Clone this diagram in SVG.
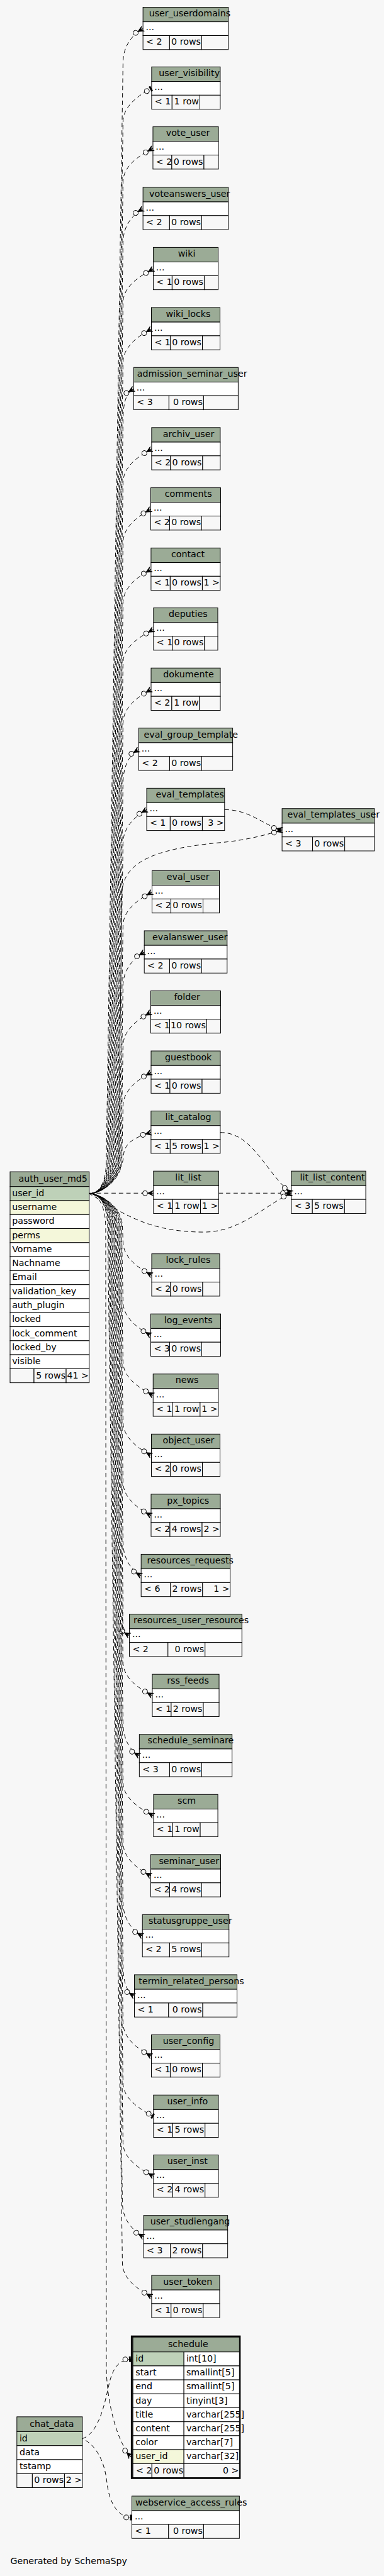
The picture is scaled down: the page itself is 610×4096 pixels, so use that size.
<svg xmlns="http://www.w3.org/2000/svg" width="610" height="4096" viewBox="0 0 610 4096">
<style>
.hd{fill:#9bab96;stroke:#000;stroke-width:1}
.bd{fill:#fff;stroke:#000;stroke-width:1}
.ft{fill:#f7f7f7;stroke:#000;stroke-width:1}
.pk{fill:#bed1b8;stroke:#000;stroke-width:1}
.ix{fill:#f4f7da;stroke:#000;stroke-width:1}
text{font-family:"DejaVu Sans","Bitstream Vera Sans",sans-serif;font-size:14.5px;fill:#000}
.m{text-anchor:middle}
.r{text-anchor:end}
.e{fill:none;stroke:#000;stroke-width:1;stroke-dasharray:7 5}
.ec{marker-end:url(#crow)}
.et{marker-end:url(#tee)}
.o1{stroke-dashoffset:3}.o2{stroke-dashoffset:6}.o3{stroke-dashoffset:9}.o4{stroke-dashoffset:1.5}.o5{stroke-dashoffset:4.5}.o6{stroke-dashoffset:7.5}.o7{stroke-dashoffset:10.5}
</style>
<defs>
<marker id="crow" viewBox="0 0 20 12" refX="18" refY="6" markerWidth="20" markerHeight="12" markerUnits="userSpaceOnUse" orient="auto" style="overflow:visible">
<circle cx="4.4" cy="6" r="4" fill="#f7f7f7" stroke="#000" stroke-width="1" stroke-dasharray="none"/>
<polygon points="8.4,6 18,1.5 14,6 18,10.5" fill="#000" stroke="#000" stroke-width="0.8" stroke-dasharray="none"/>
<line x1="8.4" y1="6" x2="18" y2="6" stroke="#000" stroke-width="1"/>
</marker>
<marker id="tee" viewBox="0 0 20 12" refX="18" refY="6" markerWidth="20" markerHeight="12" markerUnits="userSpaceOnUse" orient="auto" style="overflow:visible">
<circle cx="9" cy="6" r="4" fill="#f7f7f7" stroke="#000" stroke-width="1" stroke-dasharray="none"/>
<rect x="15" y="1.5" width="3" height="9" fill="#000"/>
</marker>
</defs>
<rect x="0" y="0" width="610" height="4096" fill="#f7f7f7"/>
<g transform="scale(0.982)">

<g id="nodes">
<g id="t-user_userdomains">
<rect class="hd" x="231.3" y="11.7" width="138" height="23.6"/><rect class="bd" x="231.3" y="35.3" width="138" height="22.2"/>
<rect class="ft" x="231.3" y="57.5" width="43" height="22.7"/><rect class="ft" x="274.3" y="57.5" width="52" height="22.7"/><rect class="ft" x="326.3" y="57.5" width="43" height="22.7"/>
<text class="m" x="307" y="26.7">user_userdomains</text><text x="235.8" y="49.2">...</text><text x="236.3" y="72.7">&lt; 2</text><text class="r" x="324.8" y="72.7">0 rows</text>
</g>
<g id="t-user_visibility">
<rect class="hd" x="245.3" y="108.3" width="111" height="23.6"/><rect class="bd" x="245.3" y="131.9" width="111" height="22.2"/>
<rect class="ft" x="245.3" y="154.1" width="33" height="22.7"/><rect class="ft" x="278.3" y="154.1" width="45" height="22.7"/><rect class="ft" x="323.3" y="154.1" width="33" height="22.7"/>
<text class="m" x="306.2" y="123.3">user_visibility</text><text x="249.8" y="145.8">...</text><text x="250.3" y="169.3">&lt; 1</text><text class="r" x="321.8" y="169.3">1 row</text>
</g>
<g id="t-vote_user">
<rect class="hd" x="247.4" y="205.3" width="106" height="23.6"/><rect class="bd" x="247.4" y="228.9" width="106" height="22.2"/>
<rect class="ft" x="247.4" y="251.1" width="30.5" height="22.7"/><rect class="ft" x="277.9" y="251.1" width="52" height="22.7"/><rect class="ft" x="329.9" y="251.1" width="23.5" height="22.7"/>
<text class="m" x="304" y="220.3">vote_user</text><text x="251.9" y="242.8">...</text><text x="252.4" y="266.3">&lt; 2</text><text class="r" x="328.4" y="266.3">0 rows</text>
</g>
<g id="t-voteanswers_user">
<rect class="hd" x="231.3" y="303.3" width="138" height="23.6"/><rect class="bd" x="231.3" y="326.9" width="138" height="22.2"/>
<rect class="ft" x="231.3" y="349.1" width="43" height="22.7"/><rect class="ft" x="274.3" y="349.1" width="52" height="22.7"/><rect class="ft" x="326.3" y="349.1" width="43" height="22.7"/>
<text class="m" x="306.8" y="318.3">voteanswers_user</text><text x="235.8" y="340.8">...</text><text x="236.3" y="364.3">&lt; 2</text><text class="r" x="324.8" y="364.3">0 rows</text>
</g>
<g id="t-wiki">
<rect class="hd" x="247.9" y="400.6" width="105" height="23.6"/><rect class="bd" x="247.9" y="424.2" width="105" height="22.2"/>
<rect class="ft" x="247.9" y="446.4" width="30.5" height="22.7"/><rect class="ft" x="278.4" y="446.4" width="52" height="22.7"/><rect class="ft" x="330.4" y="446.4" width="22.5" height="22.7"/>
<text class="m" x="302" y="415.6">wiki</text><text x="252.4" y="438.1">...</text><text x="252.9" y="461.6">&lt; 1</text><text class="r" x="328.9" y="461.6">0 rows</text>
</g>
<g id="t-wiki_locks">
<rect class="hd" x="244.9" y="497.9" width="111" height="23.6"/><rect class="bd" x="244.9" y="521.5" width="111" height="22.2"/>
<rect class="ft" x="244.9" y="543.7" width="30.5" height="22.7"/><rect class="ft" x="275.4" y="543.7" width="52" height="22.7"/><rect class="ft" x="327.4" y="543.7" width="28.5" height="22.7"/>
<text class="m" x="304.4" y="512.9">wiki_locks</text><text x="249.4" y="535.4">...</text><text x="249.9" y="558.9">&lt; 1</text><text class="r" x="325.9" y="558.9">0 rows</text>
</g>
<g id="t-admission_seminar_user">
<rect class="hd" x="216.3" y="595" width="169" height="23.6"/><rect class="bd" x="216.3" y="618.6" width="169" height="22.2"/>
<rect class="ft" x="216.3" y="640.8" width="57" height="22.7"/><rect class="ft" x="273.3" y="640.8" width="56" height="22.7"/><rect class="ft" x="329.3" y="640.8" width="56" height="22.7"/>
<text class="m" x="310.7" y="610">admission_seminar_user</text><text x="220.8" y="632.5">...</text><text x="221.3" y="656">&lt; 3</text><text class="r" x="327.8" y="656">0 rows</text>
</g>
<g id="t-archiv_user">
<rect class="hd" x="245.3" y="692.3" width="111" height="23.6"/><rect class="bd" x="245.3" y="715.9" width="111" height="22.2"/>
<rect class="ft" x="245.3" y="738.1" width="30.5" height="22.7"/><rect class="ft" x="275.8" y="738.1" width="52" height="22.7"/><rect class="ft" x="327.8" y="738.1" width="28.5" height="22.7"/>
<text class="m" x="305" y="707.3">archiv_user</text><text x="249.8" y="729.8">...</text><text x="250.3" y="753.3">&lt; 2</text><text class="r" x="326.3" y="753.3">0 rows</text>
</g>
<g id="t-comments">
<rect class="hd" x="243.9" y="789.8" width="113" height="23.6"/><rect class="bd" x="243.9" y="813.4" width="113" height="22.2"/>
<rect class="ft" x="243.9" y="835.6" width="30.5" height="22.7"/><rect class="ft" x="274.4" y="835.6" width="52" height="22.7"/><rect class="ft" x="326.4" y="835.6" width="30.5" height="22.7"/>
<text class="m" x="304.6" y="804.8">comments</text><text x="248.4" y="827.3">...</text><text x="248.9" y="850.8">&lt; 2</text><text class="r" x="324.9" y="850.8">0 rows</text>
</g>
<g id="t-contact">
<rect class="hd" x="244.3" y="887.3" width="112" height="23.6"/><rect class="bd" x="244.3" y="910.9" width="112" height="22.2"/>
<rect class="ft" x="244.3" y="933.1" width="31" height="22.7"/><rect class="ft" x="275.3" y="933.1" width="52" height="22.7"/><rect class="ft" x="327.3" y="933.1" width="29" height="22.7"/>
<text class="m" x="304" y="902.3">contact</text><text x="248.8" y="924.8">...</text><text x="249.3" y="948.3">&lt; 1</text><text class="r" x="325.8" y="948.3">0 rows</text><text class="r" x="355.3" y="948.3">1 &gt;</text>
</g>
<g id="t-deputies">
<rect class="hd" x="248.3" y="984.3" width="104" height="23.6"/><rect class="bd" x="248.3" y="1007.9" width="104" height="22.2"/>
<rect class="ft" x="248.3" y="1030.1" width="30.5" height="22.7"/><rect class="ft" x="278.8" y="1030.1" width="52" height="22.7"/><rect class="ft" x="330.8" y="1030.1" width="21.5" height="22.7"/>
<text class="m" x="304.3" y="999.3">deputies</text><text x="252.8" y="1021.8">...</text><text x="253.3" y="1045.3">&lt; 1</text><text class="r" x="329.3" y="1045.3">0 rows</text>
</g>
<g id="t-dokumente">
<rect class="hd" x="244.4" y="1081.7" width="112" height="23.6"/><rect class="bd" x="244.4" y="1105.3" width="112" height="22.2"/>
<rect class="ft" x="244.4" y="1127.5" width="33.5" height="22.7"/><rect class="ft" x="277.9" y="1127.5" width="45" height="22.7"/><rect class="ft" x="322.9" y="1127.5" width="33.5" height="22.7"/>
<text class="m" x="305" y="1096.7">dokumente</text><text x="248.9" y="1119.2">...</text><text x="249.4" y="1142.7">&lt; 2</text><text class="r" x="321.4" y="1142.7">1 row</text>
</g>
<g id="t-eval_group_template">
<rect class="hd" x="224.4" y="1179" width="152" height="23.6"/><rect class="bd" x="224.4" y="1202.6" width="152" height="22.2"/>
<rect class="ft" x="224.4" y="1224.8" width="50" height="22.7"/><rect class="ft" x="274.4" y="1224.8" width="52" height="22.7"/><rect class="ft" x="326.4" y="1224.8" width="50" height="22.7"/>
<text class="m" x="308.8" y="1194">eval_group_template</text><text x="228.9" y="1216.5">...</text><text x="229.4" y="1240">&lt; 2</text><text class="r" x="324.9" y="1240">0 rows</text>
</g>
<g id="t-eval_templates">
<rect class="hd" x="237.3" y="1276.3" width="126" height="23.6"/><rect class="bd" x="237.3" y="1299.9" width="126" height="22.2"/>
<rect class="ft" x="237.3" y="1322.1" width="38" height="22.7"/><rect class="ft" x="275.3" y="1322.1" width="52" height="22.7"/><rect class="ft" x="327.3" y="1322.1" width="36" height="22.7"/>
<text class="m" x="307.2" y="1291.3">eval_templates</text><text x="241.8" y="1313.8">...</text><text x="242.3" y="1337.3">&lt; 1</text><text class="r" x="325.8" y="1337.3">0 rows</text><text class="r" x="362.3" y="1337.3">3 &gt;</text>
</g>
<g id="t-eval_templates_user">
<rect class="hd" x="456.3" y="1309.3" width="149.4" height="23.6"/><rect class="bd" x="456.3" y="1332.9" width="149.4" height="22.2"/>
<rect class="ft" x="456.3" y="1355.1" width="49.4" height="22.7"/><rect class="ft" x="505.7" y="1355.1" width="52" height="22.7"/><rect class="ft" x="557.7" y="1355.1" width="48" height="22.7"/>
<text class="m" x="539.5" y="1324.3">eval_templates_user</text><text x="460.8" y="1346.8">...</text><text x="461.3" y="1370.3">&lt; 3</text><text class="r" x="556.2" y="1370.3">0 rows</text>
</g>
<g id="t-eval_user">
<rect class="hd" x="245.9" y="1409.8" width="109" height="23.6"/><rect class="bd" x="245.9" y="1433.4" width="109" height="22.2"/>
<rect class="ft" x="245.9" y="1455.6" width="30.5" height="22.7"/><rect class="ft" x="276.4" y="1455.6" width="52" height="22.7"/><rect class="ft" x="328.4" y="1455.6" width="26.5" height="22.7"/>
<text class="m" x="304.2" y="1424.8">eval_user</text><text x="250.4" y="1447.3">...</text><text x="250.9" y="1470.8">&lt; 2</text><text class="r" x="326.9" y="1470.8">0 rows</text>
</g>
<g id="t-evalanswer_user">
<rect class="hd" x="233.4" y="1507.1" width="134" height="23.6"/><rect class="bd" x="233.4" y="1530.7" width="134" height="22.2"/>
<rect class="ft" x="233.4" y="1552.9" width="41" height="22.7"/><rect class="ft" x="274.4" y="1552.9" width="52" height="22.7"/><rect class="ft" x="326.4" y="1552.9" width="41" height="22.7"/>
<text class="m" x="307.2" y="1522.1">evalanswer_user</text><text x="237.9" y="1544.6">...</text><text x="238.4" y="1568.1">&lt; 2</text><text class="r" x="324.9" y="1568.1">0 rows</text>
</g>
<g id="t-folder">
<rect class="hd" x="243.9" y="1604.4" width="113" height="23.6"/><rect class="bd" x="243.9" y="1628" width="113" height="22.2"/>
<rect class="ft" x="243.9" y="1650.2" width="30.5" height="22.7"/><rect class="ft" x="274.4" y="1650.2" width="60" height="22.7"/><rect class="ft" x="334.4" y="1650.2" width="22.5" height="22.7"/>
<text class="m" x="302.7" y="1619.4">folder</text><text x="248.4" y="1641.9">...</text><text x="248.9" y="1665.4">&lt; 1</text><text class="r" x="332.9" y="1665.4">10 rows</text>
</g>
<g id="t-guestbook">
<rect class="hd" x="244.4" y="1701.7" width="112" height="23.6"/><rect class="bd" x="244.4" y="1725.3" width="112" height="22.2"/>
<rect class="ft" x="244.4" y="1747.5" width="30.5" height="22.7"/><rect class="ft" x="274.9" y="1747.5" width="52" height="22.7"/><rect class="ft" x="326.9" y="1747.5" width="29.5" height="22.7"/>
<text class="m" x="304.6" y="1716.7">guestbook</text><text x="248.9" y="1739.2">...</text><text x="249.4" y="1762.7">&lt; 1</text><text class="r" x="325.4" y="1762.7">0 rows</text>
</g>
<g id="t-lit_catalog">
<rect class="hd" x="244.3" y="1799" width="112" height="23.6"/><rect class="bd" x="244.3" y="1822.6" width="112" height="22.2"/>
<rect class="ft" x="244.3" y="1844.8" width="31" height="22.7"/><rect class="ft" x="275.3" y="1844.8" width="52" height="22.7"/><rect class="ft" x="327.3" y="1844.8" width="29" height="22.7"/>
<text class="m" x="304.5" y="1814">lit_catalog</text><text x="248.8" y="1836.5">...</text><text x="249.3" y="1860">&lt; 1</text><text class="r" x="325.8" y="1860">5 rows</text><text class="r" x="355.3" y="1860">1 &gt;</text>
</g>
<g id="t-lit_list">
<rect class="hd" x="248.3" y="1896.3" width="105.4" height="23.6"/><rect class="bd" x="248.3" y="1919.9" width="105.4" height="22.2"/>
<rect class="ft" x="248.3" y="1942.1" width="31" height="22.7"/><rect class="ft" x="279.3" y="1942.1" width="45" height="22.7"/><rect class="ft" x="324.3" y="1942.1" width="29.4" height="22.7"/>
<text class="m" x="304.5" y="1911.3">lit_list</text><text x="252.8" y="1933.8">...</text><text x="253.3" y="1957.3">&lt; 1</text><text class="r" x="322.8" y="1957.3">1 row</text><text class="r" x="352.7" y="1957.3">1 &gt;</text>
</g>
<g id="t-lit_list_content">
<rect class="hd" x="471.3" y="1896.3" width="120.4" height="23.6"/><rect class="bd" x="471.3" y="1919.9" width="120.4" height="22.2"/>
<rect class="ft" x="471.3" y="1942.1" width="34" height="22.7"/><rect class="ft" x="505.3" y="1942.1" width="52" height="22.7"/><rect class="ft" x="557.3" y="1942.1" width="34.4" height="22.7"/>
<text class="m" x="537.7" y="1911.3">lit_list_content</text><text x="475.8" y="1933.8">...</text><text x="476.3" y="1957.3">&lt; 3</text><text class="r" x="555.8" y="1957.3">5 rows</text>
</g>
<g id="t-lock_rules">
<rect class="hd" x="245.4" y="2030.2" width="110" height="23.6"/><rect class="bd" x="245.4" y="2053.8" width="110" height="22.2"/>
<rect class="ft" x="245.4" y="2076" width="30.5" height="22.7"/><rect class="ft" x="275.9" y="2076" width="52" height="22.7"/><rect class="ft" x="327.9" y="2076" width="27.5" height="22.7"/>
<text class="m" x="304.4" y="2045.2">lock_rules</text><text x="249.9" y="2067.7">...</text><text x="250.4" y="2091.2">&lt; 2</text><text class="r" x="326.4" y="2091.2">0 rows</text>
</g>
<g id="t-log_events">
<rect class="hd" x="243.9" y="2127.5" width="113" height="23.6"/><rect class="bd" x="243.9" y="2151.1" width="113" height="22.2"/>
<rect class="ft" x="243.9" y="2173.3" width="30.5" height="22.7"/><rect class="ft" x="274.4" y="2173.3" width="52" height="22.7"/><rect class="ft" x="326.4" y="2173.3" width="30.5" height="22.7"/>
<text class="m" x="304.7" y="2142.5">log_events</text><text x="248.4" y="2165">...</text><text x="248.9" y="2188.5">&lt; 3</text><text class="r" x="324.9" y="2188.5">0 rows</text>
</g>
<g id="t-news">
<rect class="hd" x="247.7" y="2224.8" width="105.4" height="23.6"/><rect class="bd" x="247.7" y="2248.4" width="105.4" height="22.2"/>
<rect class="ft" x="247.7" y="2270.6" width="31" height="22.7"/><rect class="ft" x="278.7" y="2270.6" width="45" height="22.7"/><rect class="ft" x="323.7" y="2270.6" width="29.4" height="22.7"/>
<text class="m" x="302.5" y="2239.8">news</text><text x="252.2" y="2262.3">...</text><text x="252.7" y="2285.8">&lt; 1</text><text class="r" x="322.2" y="2285.8">1 row</text><text class="r" x="352.1" y="2285.8">1 &gt;</text>
</g>
<g id="t-object_user">
<rect class="hd" x="244.9" y="2322.1" width="111" height="23.6"/><rect class="bd" x="244.9" y="2345.7" width="111" height="22.2"/>
<rect class="ft" x="244.9" y="2367.9" width="30.5" height="22.7"/><rect class="ft" x="275.4" y="2367.9" width="52" height="22.7"/><rect class="ft" x="327.4" y="2367.9" width="28.5" height="22.7"/>
<text class="m" x="305" y="2337.1">object_user</text><text x="249.4" y="2359.6">...</text><text x="249.9" y="2383.1">&lt; 2</text><text class="r" x="325.9" y="2383.1">0 rows</text>
</g>
<g id="t-px_topics">
<rect class="hd" x="244.4" y="2419.4" width="112" height="23.6"/><rect class="bd" x="244.4" y="2443" width="112" height="22.2"/>
<rect class="ft" x="244.4" y="2465.2" width="30.5" height="22.7"/><rect class="ft" x="274.9" y="2465.2" width="52" height="22.7"/><rect class="ft" x="326.9" y="2465.2" width="29.5" height="22.7"/>
<text class="m" x="304.2" y="2434.4">px_topics</text><text x="248.9" y="2456.9">...</text><text x="249.4" y="2480.4">&lt; 2</text><text class="r" x="325.4" y="2480.4">4 rows</text><text class="r" x="355.4" y="2480.4">2 &gt;</text>
</g>
<g id="t-resources_requests">
<rect class="hd" x="228.3" y="2516.7" width="144" height="23.6"/><rect class="bd" x="228.3" y="2540.3" width="144" height="22.2"/>
<rect class="ft" x="228.3" y="2562.5" width="47.4" height="22.7"/><rect class="ft" x="275.7" y="2562.5" width="52" height="22.7"/><rect class="ft" x="327.7" y="2562.5" width="44.6" height="22.7"/>
<text class="m" x="307.8" y="2531.7">resources_requests</text><text x="232.8" y="2554.2">...</text><text x="233.3" y="2577.7">&lt; 6</text><text class="r" x="326.2" y="2577.7">2 rows</text><text class="r" x="371.3" y="2577.7">1 &gt;</text>
</g>
<g id="t-resources_user_resources">
<rect class="hd" x="209.3" y="2613.7" width="182" height="23.6"/><rect class="bd" x="209.3" y="2637.3" width="182" height="22.2"/>
<rect class="ft" x="209.3" y="2659.5" width="62.4" height="22.7"/><rect class="ft" x="271.7" y="2659.5" width="60" height="22.7"/><rect class="ft" x="331.7" y="2659.5" width="59.6" height="22.7"/>
<text class="m" x="309.2" y="2628.7">resources_user_resources</text><text x="213.8" y="2651.2">...</text><text x="214.3" y="2674.7">&lt; 2</text><text class="r" x="330.2" y="2674.7">0 rows</text>
</g>
<g id="t-rss_feeds">
<rect class="hd" x="246.4" y="2711" width="108" height="23.6"/><rect class="bd" x="246.4" y="2734.6" width="108" height="22.2"/>
<rect class="ft" x="246.4" y="2756.8" width="30.5" height="22.7"/><rect class="ft" x="276.9" y="2756.8" width="52" height="22.7"/><rect class="ft" x="328.9" y="2756.8" width="25.5" height="22.7"/>
<text class="m" x="304.1" y="2726">rss_feeds</text><text x="250.9" y="2748.5">...</text><text x="251.4" y="2772">&lt; 1</text><text class="r" x="327.4" y="2772">2 rows</text>
</g>
<g id="t-schedule_seminare">
<rect class="hd" x="225.4" y="2808.3" width="150" height="23.6"/><rect class="bd" x="225.4" y="2831.9" width="150" height="22.2"/>
<rect class="ft" x="225.4" y="2854.1" width="49" height="22.7"/><rect class="ft" x="274.4" y="2854.1" width="52" height="22.7"/><rect class="ft" x="326.4" y="2854.1" width="49" height="22.7"/>
<text class="m" x="308.5" y="2823.3">schedule_seminare</text><text x="229.9" y="2845.8">...</text><text x="230.4" y="2869.3">&lt; 3</text><text class="r" x="324.9" y="2869.3">0 rows</text>
</g>
<g id="t-scm">
<rect class="hd" x="248.4" y="2905.6" width="104" height="23.6"/><rect class="bd" x="248.4" y="2929.2" width="104" height="22.2"/>
<rect class="ft" x="248.4" y="2951.4" width="30.5" height="22.7"/><rect class="ft" x="278.9" y="2951.4" width="45" height="22.7"/><rect class="ft" x="323.9" y="2951.4" width="28.5" height="22.7"/>
<text class="m" x="302" y="2920.6">scm</text><text x="252.9" y="2943.1">...</text><text x="253.4" y="2966.6">&lt; 1</text><text class="r" x="322.4" y="2966.6">1 row</text>
</g>
<g id="t-seminar_user">
<rect class="hd" x="243.9" y="3002.9" width="113" height="23.6"/><rect class="bd" x="243.9" y="3026.5" width="113" height="22.2"/>
<rect class="ft" x="243.9" y="3048.7" width="30.5" height="22.7"/><rect class="ft" x="274.4" y="3048.7" width="52" height="22.7"/><rect class="ft" x="326.4" y="3048.7" width="30.5" height="22.7"/>
<text class="m" x="305.8" y="3017.9">seminar_user</text><text x="248.4" y="3040.4">...</text><text x="248.9" y="3063.9">&lt; 2</text><text class="r" x="324.9" y="3063.9">4 rows</text>
</g>
<g id="t-statusgruppe_user">
<rect class="hd" x="230.4" y="3100.2" width="140" height="23.6"/><rect class="bd" x="230.4" y="3123.8" width="140" height="22.2"/>
<rect class="ft" x="230.4" y="3146" width="44" height="22.7"/><rect class="ft" x="274.4" y="3146" width="52" height="22.7"/><rect class="ft" x="326.4" y="3146" width="44" height="22.7"/>
<text class="m" x="307.8" y="3115.2">statusgruppe_user</text><text x="234.9" y="3137.7">...</text><text x="235.4" y="3161.2">&lt; 2</text><text class="r" x="324.9" y="3161.2">5 rows</text>
</g>
<g id="t-termin_related_persons">
<rect class="hd" x="217.4" y="3197.5" width="166" height="23.6"/><rect class="bd" x="217.4" y="3221.1" width="166" height="22.2"/>
<rect class="ft" x="217.4" y="3243.3" width="55.3" height="22.7"/><rect class="ft" x="272.7" y="3243.3" width="55.3" height="22.7"/><rect class="ft" x="328" y="3243.3" width="55.4" height="22.7"/>
<text class="m" x="309.6" y="3212.5">termin_related_persons</text><text x="221.9" y="3235">...</text><text x="222.4" y="3258.5">&lt; 1</text><text class="r" x="326.5" y="3258.5">0 rows</text>
</g>
<g id="t-user_config">
<rect class="hd" x="244.9" y="3294.8" width="111" height="23.6"/><rect class="bd" x="244.9" y="3318.4" width="111" height="22.2"/>
<rect class="ft" x="244.9" y="3340.6" width="30.5" height="22.7"/><rect class="ft" x="275.4" y="3340.6" width="52" height="22.7"/><rect class="ft" x="327.4" y="3340.6" width="28.5" height="22.7"/>
<text class="m" x="305" y="3309.8">user_config</text><text x="249.4" y="3332.3">...</text><text x="249.9" y="3355.8">&lt; 1</text><text class="r" x="325.9" y="3355.8">0 rows</text>
</g>
<g id="t-user_info">
<rect class="hd" x="248.3" y="3392.3" width="105" height="23.6"/><rect class="bd" x="248.3" y="3415.9" width="105" height="22.2"/>
<rect class="ft" x="248.3" y="3438.1" width="31" height="22.7"/><rect class="ft" x="279.3" y="3438.1" width="52.4" height="22.7"/><rect class="ft" x="331.7" y="3438.1" width="21.6" height="22.7"/>
<text class="m" x="303.3" y="3407.3">user_info</text><text x="252.8" y="3429.8">...</text><text x="253.3" y="3453.3">&lt; 1</text><text class="r" x="330.2" y="3453.3">5 rows</text>
</g>
<g id="t-user_inst">
<rect class="hd" x="248.3" y="3489.3" width="105" height="23.6"/><rect class="bd" x="248.3" y="3512.9" width="105" height="22.2"/>
<rect class="ft" x="248.3" y="3535.1" width="31" height="22.7"/><rect class="ft" x="279.3" y="3535.1" width="52.4" height="22.7"/><rect class="ft" x="331.7" y="3535.1" width="21.6" height="22.7"/>
<text class="m" x="303.3" y="3504.3">user_inst</text><text x="252.8" y="3526.8">...</text><text x="253.3" y="3550.3">&lt; 2</text><text class="r" x="330.2" y="3550.3">4 rows</text>
</g>
<g id="t-user_studiengang">
<rect class="hd" x="232.3" y="3587.3" width="136" height="23.6"/><rect class="bd" x="232.3" y="3610.9" width="136" height="22.2"/>
<rect class="ft" x="232.3" y="3633.1" width="43.4" height="22.7"/><rect class="ft" x="275.7" y="3633.1" width="52" height="22.7"/><rect class="ft" x="327.7" y="3633.1" width="40.6" height="22.7"/>
<text class="m" x="307.5" y="3602.3">user_studiengang</text><text x="236.8" y="3624.8">...</text><text x="237.3" y="3648.3">&lt; 3</text><text class="r" x="326.2" y="3648.3">2 rows</text>
</g>
<g id="t-user_token">
<rect class="hd" x="245.3" y="3684.3" width="110" height="23.6"/><rect class="bd" x="245.3" y="3707.9" width="110" height="22.2"/>
<rect class="ft" x="245.3" y="3730.1" width="31.4" height="22.7"/><rect class="ft" x="276.7" y="3730.1" width="52" height="22.7"/><rect class="ft" x="328.7" y="3730.1" width="26.6" height="22.7"/>
<text class="m" x="303.7" y="3699.3">user_token</text><text x="249.8" y="3721.8">...</text><text x="250.3" y="3745.3">&lt; 1</text><text class="r" x="327.2" y="3745.3">0 rows</text>
</g>
<g id="t-webservice_access_rules">
<rect class="hd" x="213.3" y="4041.7" width="174" height="23.6"/><rect class="bd" x="213.3" y="4065.3" width="174" height="22.2"/>
<rect class="ft" x="213.3" y="4087.5" width="59.4" height="22.7"/><rect class="ft" x="272.7" y="4087.5" width="56.6" height="22.7"/><rect class="ft" x="329.3" y="4087.5" width="58" height="22.7"/>
<text class="m" x="309.2" y="4056.7">webservice_access_rules</text><text x="217.8" y="4079.2">...</text><text x="218.3" y="4102.7">&lt; 1</text><text class="r" x="327.8" y="4102.7">0 rows</text>
</g>

<g id="t-auth_user_md5">
<rect class="hd" x="16.3" y="1897.3" width="128" height="24"/>
<rect class="pk" x="16.3" y="1921.3" width="128" height="22.69"/>
<rect class="ix" x="16.3" y="1943.99" width="128" height="22.69"/>
<rect class="bd" x="16.3" y="1966.68" width="128" height="22.69"/>
<rect class="ix" x="16.3" y="1989.37" width="128" height="22.69"/>
<rect class="bd" x="16.3" y="2012.06" width="128" height="22.69"/>
<rect class="bd" x="16.3" y="2034.75" width="128" height="22.69"/>
<rect class="bd" x="16.3" y="2057.44" width="128" height="22.69"/>
<rect class="bd" x="16.3" y="2080.13" width="128" height="22.69"/>
<rect class="bd" x="16.3" y="2102.82" width="128" height="22.69"/>
<rect class="bd" x="16.3" y="2125.51" width="128" height="22.69"/>
<rect class="bd" x="16.3" y="2148.2" width="128" height="22.69"/>
<rect class="bd" x="16.3" y="2170.89" width="128" height="22.69"/>
<rect class="bd" x="16.3" y="2193.58" width="128" height="22.69"/>
<rect class="ft" x="16.3" y="2216.27" width="38.7" height="22.69"/>
<rect class="ft" x="55" y="2216.27" width="52" height="22.69"/>
<rect class="ft" x="107" y="2216.27" width="37.3" height="22.69"/>
<text x="30" y="1913.3">auth_user_md5</text>
<text x="19.5" y="1936.7">user_id</text>
<text x="19.5" y="1959.4">username</text>
<text x="19.5" y="1982.1">password</text>
<text x="19.5" y="2004.8">perms</text>
<text x="19.5" y="2027.5">Vorname</text>
<text x="19.5" y="2050.2">Nachname</text>
<text x="19.5" y="2072.8">Email</text>
<text x="19.5" y="2095.5">validation_key</text>
<text x="19.5" y="2118.2">auth_plugin</text>
<text x="19.5" y="2140.9">locked</text>
<text x="19.5" y="2163.6">lock_comment</text>
<text x="19.5" y="2186.3">locked_by</text>
<text x="19.5" y="2209">visible</text>
<text class="r" x="106" y="2231.7">5 rows</text>
<text class="r" x="143.5" y="2231.7">41 &gt;</text>
</g>

<g id="t-schedule">
<rect x="213.2" y="3783.2" width="174.6" height="229.3" fill="none" stroke="#000" stroke-width="3"/>
<rect class="hd" x="215" y="3784.3" width="172.3" height="24"/>
<rect class="pk" x="215" y="3808.3" width="82.5" height="22.6"/><rect class="bd" x="297.5" y="3808.3" width="89.8" height="22.6"/>
<rect class="bd" x="215" y="3830.9" width="82.5" height="22.6"/><rect class="bd" x="297.5" y="3830.9" width="89.8" height="22.6"/>
<rect class="bd" x="215" y="3853.5" width="82.5" height="22.6"/><rect class="bd" x="297.5" y="3853.5" width="89.8" height="22.6"/>
<rect class="bd" x="215" y="3876.1" width="82.5" height="22.6"/><rect class="bd" x="297.5" y="3876.1" width="89.8" height="22.6"/>
<rect class="bd" x="215" y="3898.7" width="82.5" height="22.6"/><rect class="bd" x="297.5" y="3898.7" width="89.8" height="22.6"/>
<rect class="bd" x="215" y="3921.3" width="82.5" height="22.6"/><rect class="bd" x="297.5" y="3921.3" width="89.8" height="22.6"/>
<rect class="bd" x="215" y="3943.9" width="82.5" height="22.6"/><rect class="bd" x="297.5" y="3943.9" width="89.8" height="22.6"/>
<rect class="ix" x="215" y="3966.5" width="82.5" height="22.6"/><rect class="bd" x="297.5" y="3966.5" width="89.8" height="22.6"/>
<rect class="ft" x="215" y="3989.1" width="30.7" height="22.6"/><rect class="ft" x="245.7" y="3989.1" width="51.8" height="22.6"/><rect class="ft" x="297.5" y="3989.1" width="89.8" height="22.6"/>
<text class="m" x="304.3" y="3800.5">schedule</text>
<text x="219.3" y="3823.9">id</text><text x="301.3" y="3823.9">int[10]</text>
<text x="219.3" y="3846.5">start</text><text x="301.3" y="3846.5">smallint[5]</text>
<text x="219.3" y="3869.1">end</text><text x="301.3" y="3869.1">smallint[5]</text>
<text x="219.3" y="3891.7">day</text><text x="301.3" y="3891.7">tinyint[3]</text>
<text x="219.3" y="3914.3">title</text><text x="301.3" y="3914.3">varchar[255]</text>
<text x="219.3" y="3936.9">content</text><text x="301.3" y="3936.9">varchar[255]</text>
<text x="219.3" y="3959.5">color</text><text x="301.3" y="3959.5">varchar[7]</text>
<text x="219.3" y="3982.1">user_id</text><text x="301.3" y="3982.1">varchar[32]</text>
<text x="220" y="4004.7">&lt; 2</text><text class="r" x="296.5" y="4004.7">0 rows</text><text class="r" x="386.5" y="4004.7">0 &gt;</text>
</g>

<g id="t-chat_data">
<rect class="hd" x="27.3" y="3913.3" width="106" height="24"/>
<rect class="pk" x="27.3" y="3937.3" width="106" height="22.7"/>
<rect class="bd" x="27.3" y="3960" width="106" height="22.7"/>
<rect class="bd" x="27.3" y="3982.7" width="106" height="22.7"/>
<rect class="ft" x="27.3" y="4005.4" width="25" height="22.6"/><rect class="ft" x="52.3" y="4005.4" width="52" height="22.6"/><rect class="ft" x="104.3" y="4005.4" width="29" height="22.6"/>
<text class="m" x="83.8" y="3929.3">chat_data</text>
<text x="31.5" y="3952.7">id</text>
<text x="31.5" y="3975.4">data</text>
<text x="31.5" y="3998.1">tstamp</text>
<text class="r" x="103" y="4020.8">0 rows</text><text class="r" x="132.5" y="4020.8">2 &gt;</text>
</g>
</g>

<g id="connectors">
<path class="e ec" d="M144.3 1932.7 C162 1932.7 172 1912.7 172 1877.7 L199 101.4 C199 71.4 217.3 54.4 231.3 46.4"/>
<path class="e et o1" d="M144.3 1932.7 C162 1932.7 173.4 1912.7 173.4 1877.7 L199 198 C199 168 231.3 151 245.3 143"/>
<path class="e ec o2" d="M144.3 1932.7 C162 1932.7 174.9 1912.7 174.9 1877.7 L199 295 C199 265 233.4 248 247.4 240"/>
<path class="e ec o3" d="M144.3 1932.7 C162 1932.7 176.3 1912.7 176.3 1877.7 L199 393 C199 363 217.3 346 231.3 338"/>
<path class="e ec o4" d="M144.3 1932.7 C162 1932.7 177.8 1912.7 177.8 1877.7 L199 490.3 C199 460.3 233.9 443.3 247.9 435.3"/>
<path class="e ec o5" d="M144.3 1932.7 C162 1932.7 179.2 1912.7 179.2 1877.7 L199 587.6 C199 557.6 230.9 540.6 244.9 532.6"/>
<path class="e ec o6" d="M144.3 1932.7 C162 1932.7 180.7 1912.7 180.7 1877.7 L199 684.7 C199 654.7 202.3 637.7 216.3 629.7"/>
<path class="e ec o7" d="M144.3 1932.7 C162 1932.7 182.1 1912.7 182.1 1877.7 L199 782 C199 752 231.3 735 245.3 727"/>
<path class="e ec o1" d="M144.3 1932.7 C162 1932.7 183.6 1912.7 183.6 1877.7 L199 879.5 C199 849.5 229.9 832.5 243.9 824.5"/>
<path class="e ec o3" d="M144.3 1932.7 C162 1932.7 185 1912.7 185 1877.7 L199 977 C199 947 230.3 930 244.3 922"/>
<path class="e ec o5" d="M144.3 1932.7 C162 1932.7 186.4 1912.7 186.4 1877.7 L199 1074 C199 1044 234.3 1027 248.3 1019"/>
<path class="e ec o7" d="M144.3 1932.7 C162 1932.7 187.9 1912.7 187.9 1877.7 L199 1171.4 C199 1141.4 230.4 1124.4 244.4 1116.4"/>
<path class="e ec o2" d="M144.3 1932.7 C162 1932.7 189.3 1912.7 189.3 1877.7 L199 1268.7 C199 1238.7 210.4 1221.7 224.4 1213.7"/>
<path class="e ec o4" d="M144.3 1932.7 C162 1932.7 190.8 1912.7 190.8 1877.7 L199 1366 C199 1336 223.3 1319 237.3 1311"/>
<path class="e ec o6" d="M144.3 1932.7 C162 1932.7 192 1912.7 192 1877.7 L197 1450 C197 1395 250 1374 360 1364 C400 1360 430 1352 456.3 1344"/>
<path class="e ec" d="M363.3 1311 C405 1311 425 1336 456.3 1344"/>
<path class="e ec o1" d="M144.3 1932.7 C162 1932.7 192.8 1912.7 192.8 1877.7 L199 1499.5 C199 1469.5 231.9 1452.5 245.9 1444.5"/>
<path class="e ec o3" d="M144.3 1932.7 C162 1932.7 194.2 1912.7 194.2 1877.7 L199 1596.8 C199 1566.8 219.4 1549.8 233.4 1541.8"/>
<path class="e ec o5" d="M144.3 1932.7 C162 1932.7 195.6 1912.7 195.6 1877.7 L199 1694.1 C199 1664.1 229.9 1647.1 243.9 1639.1"/>
<path class="e ec o7" d="M144.3 1932.7 C162 1932.7 197.1 1912.7 197.1 1877.7 L199 1791.4 C199 1761.4 230.4 1744.4 244.4 1736.4"/>
<path class="e ec o2" d="M144.3 1932.7 C175 1932.7 199 1895 200 1870 C201 1848 226 1839 244.3 1833.7"/>
<path class="e ec" d="M144.3 1932 L248.3 1932"/>
<path class="e ec" d="M356.3 1833.7 C410 1833.7 430 1900 471.3 1932"/>
<path class="e ec" d="M353.7 1932 L471.3 1932"/>
<path class="e ec o4" d="M144.3 1932.7 C200 1965 240 1995 330 1995 C390 1995 430 1950 471.3 1932"/>
<path class="e ec o1" d="M144.3 1932.7 C162 1932.7 198.1 1952.7 198.1 1987.7 L199 2009.9 C199 2039.9 231.4 2056.9 245.4 2064.9"/>
<path class="e ec o3" d="M144.3 1932.7 C162 1932.7 196.7 1952.7 196.7 1987.7 L199 2107.2 C199 2137.2 229.9 2154.2 243.9 2162.2"/>
<path class="e ec o5" d="M144.3 1932.7 C162 1932.7 195.3 1952.7 195.3 1987.7 L199 2204.5 C199 2234.5 233.7 2251.5 247.7 2259.5"/>
<path class="e ec o7" d="M144.3 1932.7 C162 1932.7 193.8 1952.7 193.8 1987.7 L199 2301.8 C199 2331.8 230.9 2348.8 244.9 2356.8"/>
<path class="e ec o2" d="M144.3 1932.7 C162 1932.7 192.4 1952.7 192.4 1987.7 L199 2399.1 C199 2429.1 230.4 2446.1 244.4 2454.1"/>
<path class="e ec o4" d="M144.3 1932.7 C162 1932.7 191 1952.7 191 1987.7 L199 2496.4 C199 2526.4 214.3 2543.4 228.3 2551.4"/>
<path class="e ec o6" d="M144.3 1932.7 C162 1932.7 189.6 1952.7 189.6 1987.7 L199 2593.4 C199 2623.4 195.3 2640.4 209.3 2648.4"/>
<path class="e ec" d="M144.3 1932.7 C162 1932.7 188.2 1952.7 188.2 1987.7 L199 2690.7 C199 2720.7 232.4 2737.7 246.4 2745.7"/>
<path class="e ec o1" d="M144.3 1932.7 C162 1932.7 186.8 1952.7 186.8 1987.7 L199 2788 C199 2818 211.4 2835 225.4 2843"/>
<path class="e ec o3" d="M144.3 1932.7 C162 1932.7 185.4 1952.7 185.4 1987.7 L199 2885.3 C199 2915.3 234.4 2932.3 248.4 2940.3"/>
<path class="e ec o5" d="M144.3 1932.7 C162 1932.7 184 1952.7 184 1987.7 L199 2982.6 C199 3012.6 229.9 3029.6 243.9 3037.6"/>
<path class="e ec o7" d="M144.3 1932.7 C162 1932.7 182.5 1952.7 182.5 1987.7 L199 3079.9 C199 3109.9 216.4 3126.9 230.4 3134.9"/>
<path class="e ec o2" d="M144.3 1932.7 C162 1932.7 181.1 1952.7 181.1 1987.7 L199 3177.2 C199 3207.2 203.4 3224.2 217.4 3232.2"/>
<path class="e ec o4" d="M144.3 1932.7 C162 1932.7 179.7 1952.7 179.7 1987.7 L199 3274.5 C199 3304.5 230.9 3321.5 244.9 3329.5"/>
<path class="e et o6" d="M144.3 1932.7 C162 1932.7 178.3 1952.7 178.3 1987.7 L199 3372 C199 3402 234.3 3419 248.3 3427"/>
<path class="e ec" d="M144.3 1932.7 C162 1932.7 176.9 1952.7 176.9 1987.7 L199 3469 C199 3499 234.3 3516 248.3 3524"/>
<path class="e ec o1" d="M144.3 1932.7 C162 1932.7 175.5 1952.7 175.5 1987.7 L198 3567 C198 3597 218.3 3614 232.3 3622"/>
<path class="e ec o3" d="M144.3 1932.7 C162 1932.7 174.1 1952.7 174.1 1987.7 L198 3664 C198 3694 231.3 3711 245.3 3719"/>
<path class="e ec o5" d="M144.3 1932.7 C158 1932.7 171 1952.7 171 1987.7 L172 3830 C172 3890 190 3955 211.7 3978"/>
<path class="e et" d="M133.3 3948.7 C158 3940 168 3900 176 3862 C182 3835 192 3821 211.7 3820"/>
<path class="e et o2" d="M133.3 3948.7 C158 3960 170 3990 173 4020 C177 4055 192 4076 213.3 4076.4"/>
</g>

<text x="16.7" y="4152">Generated by SchemaSpy</text>
</g>
</svg>
